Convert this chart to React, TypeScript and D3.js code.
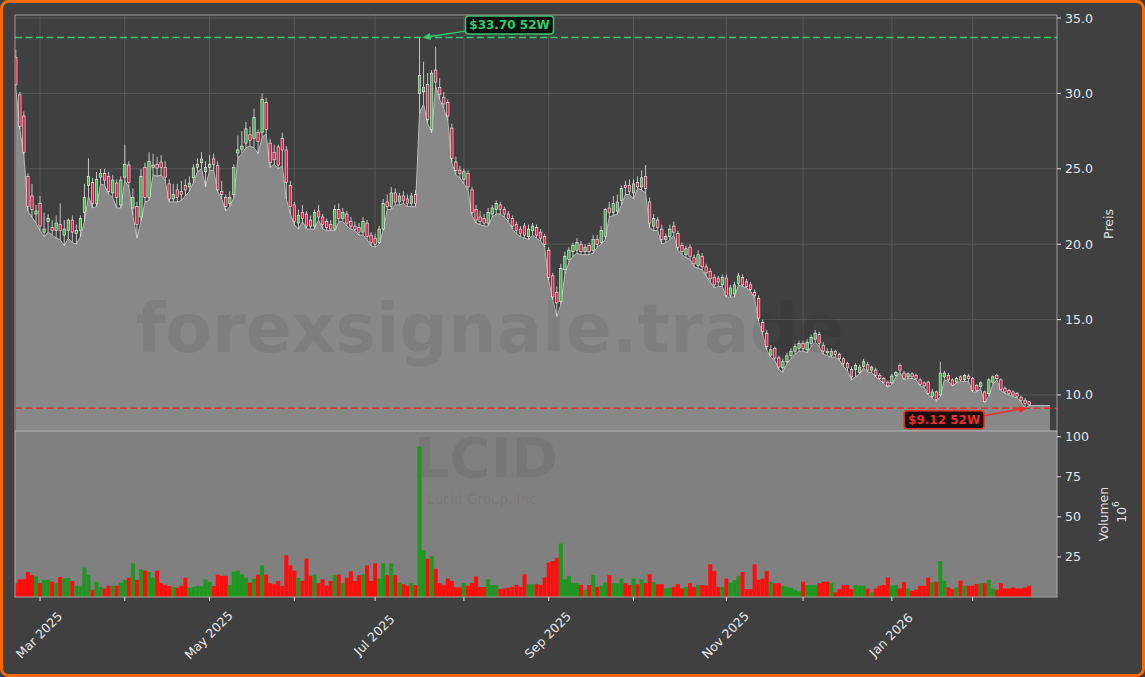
import React from 'react';
import * as d3 from 'd3';

// ---------- data ----------
const START_DATE = '2025-02-21';
const END_DATE = '2026-02-23';
const HOLIDAYS = ['2025-04-18', '2025-05-26', '2025-06-19', '2025-07-04', '2025-09-01', '2025-11-27', '2025-12-25', '2026-01-01', '2026-01-19', '2026-02-16'];

const opens = [
  32.4, 29.9, 28.5, 24.5, 23.2, 22.0, 22.7, 20.8, 21.5, 21.1,
  20.9, 21.3, 20.6, 20.9, 21.6, 20.7, 20.9, 22.1, 23.9, 24.1,
  22.7, 24.45, 24.7, 24.5, 23.4, 24.05, 22.6, 24.45, 25.25, 22.4,
  22.5, 21.8, 25.1, 23.1, 25.1, 25.3, 25.45, 25.1, 24.0, 23.0,
  23.6, 23.5, 23.9, 23.8, 24.4, 25.1, 25.4, 24.8, 25.1, 25.65,
  25.2, 23.5, 23.1, 22.7, 23.3, 26.05, 26.3, 26.7, 27.25, 27.0,
  27.4, 27.4, 29.4, 26.7, 26.1, 26.45, 27.0, 26.25, 23.9, 22.6,
  21.4, 22.1, 22.0, 21.6, 21.2, 22.2, 21.8, 21.5, 21.3, 21.0,
  22.3, 21.7, 22.0, 21.5, 21.2, 21.1, 20.8, 21.4, 20.6, 20.4,
  20.1, 21.0, 22.8, 22.5, 23.4, 22.8, 23.2, 23.0, 22.7, 23.3,
  30.0, 30.1, 30.6, 27.6, 31.55, 30.4, 29.75, 29.4, 27.7, 25.45,
  24.9, 24.3, 24.7, 23.6, 22.3, 21.8, 21.7, 21.4, 22.0, 22.3,
  22.6, 22.3, 22.0, 21.7, 21.3, 21.0, 21.2, 20.5, 20.9, 21.1,
  20.8, 20.5, 19.6, 17.9, 16.8, 16.2, 18.3, 19.0, 19.5, 19.6,
  20.0, 19.5, 19.9, 19.6, 20.3, 20.1, 20.5, 22.4, 22.1, 22.2,
  22.9, 23.9, 23.9, 23.4, 24.1, 23.8, 24.5, 22.8, 21.2, 21.6,
  21.0, 20.3, 20.5, 21.2, 20.7, 19.9, 19.3, 19.8, 19.1, 18.6,
  19.2, 18.5, 18.2, 17.8, 17.75, 17.3, 17.75, 16.6, 16.7, 17.4,
  17.8, 17.5, 17.3, 16.8, 16.4, 14.8, 14.1, 12.65, 13.1, 12.45,
  11.8, 12.2, 12.6, 12.9, 13.1, 13.4, 13.0, 13.4, 13.7, 14.0,
  13.3, 12.9, 12.6, 12.9, 12.7, 12.4, 12.1, 11.7, 11.7, 11.5,
  11.9, 12.0, 11.65, 11.65, 11.3, 11.1, 10.85, 10.8, 11.3, 11.95,
  11.45, 11.2, 11.4, 11.3, 11.0, 10.8, 10.85, 9.9, 10.2, 10.0,
  11.2, 11.3, 11.0, 10.85, 11.2, 11.0, 11.25, 11.1, 10.65, 10.55,
  10.2, 10.1, 10.85, 11.3, 11.0, 10.45, 10.3, 10.2, 10.1, 9.85,
  9.65, 9.55,
];

const highs = [
  32.9, 30.1, 28.8, 24.7, 24.0, 22.6, 23.2, 22.1, 22.0, 21.6,
  21.9, 22.7, 21.6, 21.7, 21.9, 21.3, 21.9, 24.0, 25.7, 24.4,
  24.8, 25.0, 25.0, 24.8, 24.6, 24.3, 24.5, 26.6, 25.5, 23.7,
  22.8, 25.0, 25.4, 26.1, 26.0, 25.8, 25.9, 25.5, 24.3, 24.0,
  24.0, 24.2, 24.3, 24.5, 25.3, 25.7, 26.1, 25.5, 25.9, 26.0,
  25.5, 24.2, 23.3, 23.5, 25.3, 27.2, 27.5, 28.1, 27.8, 29.0,
  27.6, 30.0, 29.7, 27.0, 26.6, 26.6, 27.4, 26.5, 24.2, 22.8,
  22.3, 22.6, 22.2, 21.9, 22.3, 22.6, 22.0, 21.7, 21.6, 22.6,
  22.7, 22.4, 22.2, 21.8, 21.5, 21.4, 21.8, 21.6, 20.8, 20.7,
  21.2, 23.0, 23.3, 23.8, 23.7, 23.4, 23.5, 23.3, 23.4, 23.6,
  33.7, 32.1, 31.35, 31.55, 33.1, 31.0, 30.1, 29.6, 28.0, 25.8,
  25.2, 25.0, 24.9, 23.8, 22.6, 22.2, 22.0, 22.4, 22.6, 22.9,
  22.8, 22.5, 22.2, 21.9, 21.5, 21.2, 21.4, 21.3, 21.4, 21.3,
  21.0, 20.7, 19.8, 18.1, 17.2, 18.7, 19.5, 19.8, 20.1, 20.4,
  20.2, 20.0, 20.1, 20.6, 20.6, 21.2, 22.4, 22.8, 23.2, 23.3,
  23.9, 24.2, 24.3, 24.3, 24.5, 24.9, 25.25, 23.1, 22.0, 21.8,
  21.3, 20.7, 21.3, 21.5, 20.9, 20.1, 19.9, 20.0, 19.3, 19.6,
  19.4, 18.7, 18.4, 18.0, 17.9, 18.0, 18.0, 17.3, 17.5, 18.1,
  18.0, 17.7, 17.5, 17.0, 16.6, 15.0, 14.3, 13.3, 13.2, 12.6,
  12.4, 12.8, 13.1, 13.4, 13.6, 13.6, 13.7, 14.0, 14.3, 14.2,
  13.5, 13.1, 13.1, 13.0, 12.8, 12.5, 12.2, 11.9, 12.1, 12.0,
  12.4, 12.2, 11.95, 11.8, 11.45, 11.2, 10.95, 11.4, 11.6, 12.1,
  11.6, 11.5, 11.5, 11.4, 11.1, 10.9, 10.95, 10.4, 10.3, 12.2,
  11.6, 11.45, 11.1, 11.2, 11.3, 11.4, 11.4, 11.2, 10.7, 10.9,
  10.3, 11.1, 11.3, 11.4, 11.1, 10.55, 10.4, 10.3, 10.2, 9.95,
  9.8, 9.6,
];

const lows = [
  30.3, 27.6, 25.9, 22.2, 21.8, 21.4, 20.9, 20.5, 20.8, 20.6,
  20.4, 20.3, 19.9, 20.4, 20.1, 20.0, 20.5, 21.5, 23.2, 22.4,
  22.5, 24.0, 23.9, 23.3, 23.1, 22.4, 22.4, 24.2, 23.8, 21.9,
  20.4, 21.5, 22.8, 22.9, 24.6, 24.5, 24.6, 24.2, 22.8, 22.8,
  22.8, 22.9, 23.2, 23.5, 24.1, 24.8, 25.0, 23.8, 24.9, 24.9,
  23.5, 23.0, 22.2, 22.5, 23.1, 25.7, 26.0, 26.4, 26.5, 26.4,
  26.0, 27.1, 27.3, 25.1, 25.3, 25.0, 25.2, 23.0, 22.0, 21.3,
  21.0, 21.5, 21.0, 21.0, 21.0, 21.6, 21.0, 20.9, 20.9, 20.9,
  21.5, 21.5, 21.2, 21.0, 20.9, 20.6, 20.6, 20.3, 19.9, 19.8,
  20.0, 20.9, 22.3, 22.3, 22.6, 22.6, 22.7, 22.5, 22.5, 22.5,
  28.7, 29.3, 28.0, 27.4, 30.5, 29.6, 29.0, 28.2, 25.4, 24.6,
  24.4, 24.0, 23.6, 21.9, 21.4, 21.3, 21.2, 21.2, 21.8, 22.0,
  22.0, 21.8, 21.5, 21.0, 20.7, 20.5, 20.4, 20.3, 20.6, 20.4,
  20.2, 19.8, 17.6, 16.3, 15.2, 16.0, 18.0, 18.8, 19.2, 19.4,
  19.3, 19.3, 19.3, 19.4, 19.8, 20.0, 20.3, 21.8, 21.9, 22.0,
  22.6, 23.3, 23.3, 23.0, 23.7, 23.6, 23.4, 21.1, 20.9, 20.9,
  20.0, 20.1, 20.3, 20.6, 19.6, 19.3, 19.1, 19.0, 18.5, 18.4,
  18.3, 17.9, 17.5, 17.1, 17.2, 17.2, 16.5, 16.5, 16.5, 17.3,
  17.2, 17.1, 16.9, 16.4, 14.9, 14.0, 13.0, 12.5, 12.3, 11.7,
  11.5, 12.1, 12.4, 12.7, 12.9, 12.9, 12.8, 13.2, 13.5, 13.2,
  12.7, 12.6, 12.5, 12.5, 12.3, 11.9, 11.6, 11.0, 11.2, 11.4,
  11.8, 11.5, 11.5, 11.2, 11.0, 10.75, 10.5, 10.7, 11.2, 11.5,
  11.0, 11.1, 11.1, 11.0, 10.6, 10.5, 10.0, 9.8, 9.55, 9.9,
  11.0, 10.9, 10.6, 10.8, 10.9, 10.9, 10.9, 10.2, 10.2, 10.4,
  9.5, 9.9, 10.7, 11.0, 10.3, 10.1, 10.0, 9.9, 9.8, 9.55,
  9.12, 9.3,
];

const closes = [
  30.6, 27.8, 26.1, 22.5, 22.3, 22.2, 21.2, 21.0, 21.7, 20.9,
  21.4, 20.9, 21.0, 21.6, 20.8, 20.9, 21.7, 23.1, 24.5, 22.7,
  24.3, 24.7, 24.25, 23.5, 24.25, 23.1, 24.25, 25.3, 24.1, 23.1,
  21.3, 24.5, 23.1, 25.5, 25.25, 25.05, 25.1, 24.45, 23.0, 23.3,
  23.1, 23.3, 23.6, 24.05, 25.05, 25.3, 25.65, 25.1, 25.3, 25.3,
  23.6, 23.3, 22.5, 23.1, 25.1, 26.25, 26.5, 27.65, 26.9, 28.4,
  26.8, 29.6, 27.6, 25.4, 25.6, 25.25, 26.25, 24.1, 22.5, 21.5,
  21.9, 21.7, 21.2, 21.2, 22.1, 21.8, 21.3, 21.1, 21.0, 22.3,
  21.7, 22.1, 21.4, 21.2, 21.0, 20.8, 21.5, 20.5, 20.1, 20.0,
  21.0, 22.7, 22.5, 23.4, 22.8, 23.2, 22.9, 22.7, 23.2, 22.7,
  31.2, 30.4, 28.25, 31.35, 30.75, 29.95, 29.3, 28.5, 25.7, 24.9,
  24.7, 24.8, 23.8, 22.1, 21.6, 21.5, 21.4, 22.1, 22.4, 22.7,
  22.3, 22.0, 21.7, 21.2, 20.9, 20.7, 20.6, 21.0, 21.2, 20.6,
  20.4, 20.0, 17.8, 16.5, 16.1, 18.4, 19.2, 19.6, 19.9, 20.1,
  19.5, 19.8, 19.5, 20.3, 20.0, 20.9, 22.3, 22.1, 22.7, 22.8,
  23.7, 23.75, 23.5, 24.0, 23.8, 24.4, 23.7, 21.4, 21.7, 21.1,
  20.3, 20.5, 21.0, 20.8, 19.8, 19.5, 19.7, 19.2, 18.7, 19.3,
  18.5, 18.1, 17.7, 17.3, 17.5, 17.8, 16.6, 17.1, 17.3, 17.9,
  17.3, 17.2, 17.0, 16.6, 15.1, 14.2, 13.2, 13.0, 12.45, 11.85,
  12.2, 12.6, 12.9, 13.2, 13.4, 13.1, 13.5, 13.8, 14.1, 13.4,
  12.9, 12.8, 12.9, 12.7, 12.4, 12.1, 11.8, 11.2, 11.95, 11.85,
  12.2, 11.65, 11.85, 11.3, 11.1, 10.85, 10.6, 11.25, 11.5, 11.65,
  11.1, 11.4, 11.2, 11.1, 10.7, 10.6, 10.1, 10.2, 9.7, 11.45,
  11.45, 11.0, 10.65, 11.1, 11.0, 11.3, 11.1, 10.3, 10.3, 10.8,
  9.55, 11.0, 11.2, 11.1, 10.35, 10.2, 10.1, 10.0, 9.9, 9.65,
  9.45, 9.35,
];

// volume in millions
const volumes = [
  8.6, 11, 11, 15.6, 13.6, 13, 8.6, 10.7, 10.9, 9.5,
  8.6, 12.5, 11.5, 11.7, 10, 7, 6.6, 18.3, 13.8, 4.5,
  9.5, 6.3, 5.3, 7, 7, 7, 9, 10.7, 12, 21,
  10.7, 17.3, 16.4, 15.6, 12, 16.4, 8.6, 7.4, 6.8, 6.3,
  5.8, 7, 12, 5.8, 6.3, 7, 6.6, 11, 9.5, 6.8,
  14, 13.2, 13.2, 7.4, 15.9, 16.4, 14, 12, 9, 11.5,
  14, 19.8, 14, 8.6, 8, 10, 6.8, 26, 19.8, 16.4,
  12, 10, 24, 13.2, 14, 8.6, 11, 7, 10, 13.6,
  14, 8.6, 12, 16, 10, 13.6, 14.2, 19.8, 10, 21,
  11.5, 21, 13.6, 21, 13.6, 9, 8, 7, 8.6, 7.4,
  93.8, 29, 23.9, 25.5, 17.7, 8.6, 7.4, 11.5, 10, 6,
  6, 8.6, 7, 8.6, 12.8, 6.3, 6.3, 11, 7.4, 7.4,
  5, 5.3, 5.8, 6.3, 7.6, 6.3, 14.2, 8, 8, 8,
  7.6, 12.2, 21.5, 22.5, 24.5, 33.3, 11, 13.2, 8.6, 8.6,
  7.6, 4.5, 7.4, 13.6, 6.3, 7, 9, 13.6, 8.6, 8.6,
  11.5, 8.6, 7.4, 11.5, 8, 11, 8.6, 14.2, 9.5, 8,
  8, 5.3, 5.8, 6.3, 8, 5.3, 6.3, 8.6, 6.3, 7.4,
  7.4, 7, 20.4, 16.2, 6.3, 6.3, 11.5, 9.1, 10.5, 13.2,
  15.6, 4.9, 4.9, 20.4, 10.7, 11.5, 16.2, 9.5, 8.6, 8.6,
  7, 6.3, 5.8, 4.5, 3.5, 9.5, 7.4, 7.4, 7.4, 8.6,
  9.5, 9.5, 8.6, 2.9, 4.9, 7.4, 7.4, 4.9, 7.4, 7,
  7, 5.3, 2.9, 5.3, 7, 7.4, 12.1, 7, 7.4, 5.3,
  9.5, 5.3, 3.9, 4.5, 7, 7, 12.1, 9.1, 9.5, 22.4,
  10, 6, 4.9, 6, 10.3, 7, 7, 7, 8.1, 8.6,
  8.6, 10.7, 5.3, 4.5, 8.6, 5.3, 5.3, 6, 5.3, 5.3,
  6, 7,
];

const priceTicks = [10, 15, 20, 25, 30, 35];
const volumeTicks = [25, 50, 75, 100];
const HIGH_52W = 33.70;
const LOW_52W = 9.12;
const TICKER = 'LCID';
const COMPANY = 'Lucid Group, Inc.';
const WATERMARK = 'forexsignale.trade';

// ---------- helpers ----------
function tradingDays(start: string, end: string, holidays: string[]): string[] {
  const out: string[] = [];
  let d = new Date(start + 'T00:00:00Z');
  const e = new Date(end + 'T00:00:00Z');
  while (d <= e) {
    const wd = d.getUTCDay();
    const iso = d.toISOString().slice(0, 10);
    if (wd !== 0 && wd !== 6 && !holidays.includes(iso)) out.push(iso);
    d = new Date(d.getTime() + 86400000);
  }
  return out;
}

const W = 1145, H = 677;
const PL = 15, PR = 1057, PT = 15, PB = 431, VB = 597;
const FONT = 'DejaVu Sans, Verdana, sans-serif';

function arrowHead(x0: number, y0: number, x1: number, y1: number, len = 8, half = 3.5) {
  const dx = x1 - x0, dy = y1 - y0;
  const L = Math.sqrt(dx * dx + dy * dy);
  const ux = dx / L, uy = dy / L;
  const bx = x1 - ux * len, by = y1 - uy * len;
  const px = -uy, py = ux;
  return `${x1},${y1} ${bx + px * half},${by + py * half} ${bx - px * half},${by - py * half}`;
}

export default function App() {
  const dates = tradingDays(START_DATE, END_DATE, HOLIDAYS);
  const n = opens.length;
  const idx = d3.range(n);

  const x = d3.scaleLinear().domain([-0.2, 257.9]).range([PL, PR]);
  const y = d3.scaleLinear().domain([7.61, 35.2]).range([PB, PT]);
  const yv = d3.scaleLinear().domain([0, 103.6]).range([VB, PB]);
  const step = x(1) - x(0);

  const parse = d3.utcParse('%Y-%m-%d');
  const fmt = d3.utcFormat('%b %Y');
  const monthTicks = idx.filter((i) => i > 0 && i < dates.length && dates[i].slice(0, 7) !== dates[i - 1].slice(0, 7));

  const areaPts = idx.map((i) => ({ j: i, v: lows[i] }));
  areaPts.push({ j: x.invert(PR - 7), v: lows[n - 1] });
  const areaGen = d3.area<{ j: number; v: number }>().x((d) => x(d.j)).y0(PB).y1((d) => y(d.v));
  const lineGen = d3.line<{ j: number; v: number }>().x((d) => x(d.j)).y((d) => y(d.v));

  const hiIdx = d3.maxIndex(highs);
  const loIdx = d3.minIndex(lows);
  const hiTip = { x: x(hiIdx) + 3, y: y(HIGH_52W) };
  const loTip = { x: x(loIdx) + 2, y: y(LOW_52W) };
  const hiBox = { cx: hiTip.x + 87, cy: hiTip.y - 12.5, w: 88, h: 18 };
  const loBox = { cx: loTip.x - 83, cy: loTip.y + 11.5, w: 80, h: 18 };

  const green = '#2ecc71';
  const red = '#e8302f';

  return (
    <svg width={W} height={H} style={{ position: 'absolute', left: 0, top: 0 }} fontFamily={FONT}>
      <defs>
        <clipPath id="pclip"><rect x={PL} y={PT} width={PR - PL} height={PB - PT} /></clipPath>
        <clipPath id="vclip"><rect x={PL} y={PB} width={PR - PL} height={VB - PB} /></clipPath>
      </defs>
      <rect x={0} y={0} width={W} height={H} fill="#404040" />

      {/* price panel grid */}
      <g clipPath="url(#pclip)">
        {priceTicks.map((t) => (
          <line key={'hg' + t} x1={PL} x2={PR} y1={y(t)} y2={y(t)} stroke="#5e5e5e" strokeWidth={0.8} />
        ))}
        {monthTicks.map((i) => (
          <line key={'vg' + i} x1={x(i)} x2={x(i)} y1={PT} y2={PB} stroke="#5e5e5e" strokeWidth={0.8} />
        ))}
        <path d={areaGen(areaPts) || ''} fill="#888888" />
        <path d={lineGen(areaPts) || ''} fill="none" stroke="#b8b8b8" strokeWidth={1} />
        <text x={490} y={352} textAnchor="middle" fontSize={68} fontWeight="bold" fill="#000" fillOpacity={0.07}>{WATERMARK}</text>
        {idx.map((i) => {
          const up = closes[i] >= opens[i];
          const top = y(Math.max(opens[i], closes[i]));
          const bot = y(Math.min(opens[i], closes[i]));
          return (
            <g key={'c' + i}>
              <line x1={x(i)} x2={x(i)} y1={y(highs[i])} y2={y(lows[i])} stroke="#e4e4e4" strokeWidth={0.8} />
              <rect x={x(i) - 1.2} y={top} width={2.4} height={Math.max(0.8, bot - top)}
                fill={up ? '#4caf50' : '#dc1f4f'} stroke="#f2f2f2" strokeWidth={0.6} />
            </g>
          );
        })}
        <line x1={PL} x2={PR} y1={y(HIGH_52W)} y2={y(HIGH_52W)} stroke={green} strokeWidth={1.5} strokeDasharray="7,3.5" />
        <line x1={PL} x2={PR} y1={y(LOW_52W)} y2={y(LOW_52W)} stroke={red} strokeWidth={1.5} strokeDasharray="7,3.5" />
      </g>

      {/* annotations */}
      <line x1={hiBox.cx - hiBox.w / 2} y1={hiBox.cy + 6} x2={hiTip.x + 6} y2={hiTip.y - 0.8} stroke={green} strokeWidth={1.5} />
      <polygon points={arrowHead(hiBox.cx - hiBox.w / 2, hiBox.cy + 6, hiTip.x, hiTip.y)} fill={green} />
      <rect x={hiBox.cx - hiBox.w / 2} y={hiBox.cy - hiBox.h / 2} width={hiBox.w} height={hiBox.h} rx={3}
        fill="#0c0f0c" stroke={green} strokeWidth={1.5} />
      <text x={hiBox.cx} y={hiBox.cy} textAnchor="middle" dominantBaseline="central" fontSize={12} fontWeight="bold" fill={green}>
        {`$${HIGH_52W.toFixed(2)} 52W`}
      </text>

      <line x1={loBox.cx + loBox.w / 2} y1={loBox.cy - 4} x2={loTip.x - 6} y2={loTip.y + 0.8} stroke={red} strokeWidth={1.5} />
      <polygon points={arrowHead(loBox.cx + loBox.w / 2, loBox.cy - 4, loTip.x, loTip.y)} fill={red} />
      <rect x={loBox.cx - loBox.w / 2} y={loBox.cy - loBox.h / 2} width={loBox.w} height={loBox.h} rx={3}
        fill="#1c0c0c" stroke={red} strokeWidth={1.5} />
      <text x={loBox.cx} y={loBox.cy} textAnchor="middle" dominantBaseline="central" fontSize={12} fontWeight="bold" fill={red}>
        {`$${LOW_52W.toFixed(2)} 52W`}
      </text>

      {/* volume panel */}
      <rect x={PL} y={PB} width={PR - PL} height={VB - PB} fill="#808080" />
      <g clipPath="url(#vclip)">
        <text x={486} y={477} textAnchor="middle" fontSize={56} fontWeight="bold" fill="#000" fillOpacity={0.07}>{TICKER}</text>
        <text x={484} y={504} textAnchor="middle" fontSize={13.5} fill="#000" fillOpacity={0.07}>{COMPANY}</text>
        {idx.map((i) => (
          <rect key={'v' + i} x={x(i) - step / 2} y={yv(volumes[i])} width={step} height={VB - yv(volumes[i])}
            fill={closes[i] >= opens[i] ? '#1f961f' : '#ff0d0d'} />
        ))}
      </g>

      {/* spines */}
      <rect x={PL} y={PT} width={PR - PL} height={PB - PT} fill="none" stroke="#9a9a9a" strokeWidth={1} />
      <rect x={PL} y={PB} width={PR - PL} height={VB - PB} fill="none" stroke="#a8a8a8" strokeWidth={1} />

      {/* right axes */}
      {priceTicks.map((t) => (
        <g key={'pt' + t}>
          <line x1={PR} x2={PR + 4} y1={y(t)} y2={y(t)} stroke="#e0e0e0" strokeWidth={1} />
          <text x={PR + 8} y={y(t)} dominantBaseline="central" fontSize={12.5} fill="#e6e6e6">{t.toFixed(1)}</text>
        </g>
      ))}
      {volumeTicks.map((t) => (
        <g key={'vt' + t}>
          <line x1={PR} x2={PR + 4} y1={yv(t)} y2={yv(t)} stroke="#e0e0e0" strokeWidth={1} />
          <text x={PR + 8} y={yv(t)} dominantBaseline="central" fontSize={12.5} fill="#e6e6e6">{t}</text>
        </g>
      ))}
      <text transform={`translate(1108,${(PT + PB) / 2 + 1}) rotate(-90)`} textAnchor="middle" dominantBaseline="central" fontSize={12.5} fill="#e0e0e0">Preis</text>
      <text transform={`translate(1103.5,${(PB + VB) / 2}) rotate(-90)`} textAnchor="middle" dominantBaseline="central" fontSize={12.5} fill="#e0e0e0">Volumen</text>
      <text transform={`translate(1121,${(PB + VB) / 2 - 2}) rotate(-90)`} textAnchor="middle" dominantBaseline="central" fontSize={12.5} fill="#e0e0e0">
        <tspan>10</tspan><tspan dy={-5} fontSize={9}>6</tspan>
      </text>

      {/* bottom axis */}
      {monthTicks.map((i) => {
        const dt = parse(dates[i]) as Date;
        const m = dt.getUTCMonth() + 1;
        return (
          <g key={'mt' + i}>
            <line x1={x(i)} x2={x(i)} y1={VB} y2={VB + 4} stroke="#e0e0e0" strokeWidth={1} />
            {m % 2 === 1 && (
              <text transform={`translate(${x(i) - 1},635) rotate(-45)`} textAnchor="middle" dominantBaseline="central" fontSize={12.5} fill="#e6e6e6">
                {fmt(dt)}
              </text>
            )}
          </g>
        );
      })}

      {/* outer frame */}
      <rect x={1.5} y={1.5} width={W - 3} height={H - 3} rx={7} fill="none" stroke="#ff6a00" strokeWidth={3} />
    </svg>
  );
}
